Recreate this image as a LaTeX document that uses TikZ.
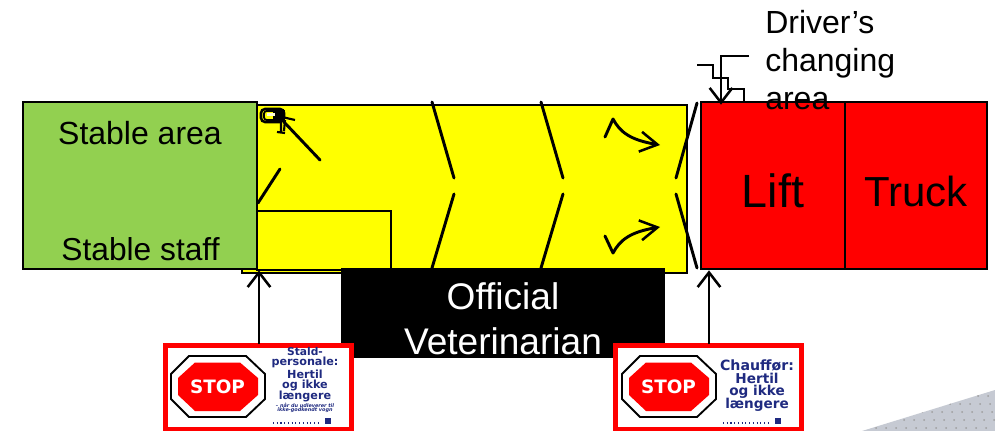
\documentclass[tikz,border=0pt]{standalone}
\usepackage{fontspec}
\setmainfont{Liberation Sans}
\newfontfamily\signfont{DejaVu Sans}
\usetikzlibrary{arrows.meta}
\definecolor{grn}{HTML}{92D050}
\definecolor{navy}{HTML}{1F2A80}
\definecolor{yel}{HTML}{FFFF00}
\definecolor{rd}{HTML}{FF0000}
\definecolor{floorc}{HTML}{C6CAD3}
\newdimen\px \px=0.75pt
\newcommand{\fsz}[1]{\fontsize{#1}{#1}\selectfont}
\tikzset{
  box/.style={draw=black,line width=2.2pt,anchor=north west,inner sep=0pt,outer sep=0pt},
  ink/.style={draw=black,line width=2.2pt,line cap=round,line join=round},
  thin ink/.style={draw=black,line width=1.9pt,line join=miter},
  chev/.style={-{Straight Barb[length=11pt,width=17pt,line width=1.9pt]},draw=black,line width=1.7pt,shorten >=-2pt},
  lbl/.style={inner sep=0pt,text=black,align=center},
  signbox/.style={draw=rd,fill=white,line width=3.6pt,anchor=north west,inner sep=0pt,outer sep=0pt,minimum width=186\px,minimum height=83.5\px},
  signtxt/.style={inner sep=0pt,text=navy,align=center},
}
\begin{document}
\begin{tikzpicture}[x=0.75pt,y=-0.75pt]
\useasboundingbox (0,0) rectangle (995,431);
% corner floor pattern
\begin{scope}
\clip (862,431) -- (995,390) -- (995,431) -- cycle;
\fill[floorc] (850,385) rectangle (995,431);
\foreach \i in {0,...,13}{\foreach \j in {0,...,4}{
  \fill[black!38] ({868+\i*10+\j*2},{396+\j*8}) circle (1);}}
\end{scope}
% zones
\node[box,fill=yel,minimum width=445\px,minimum height=168\px] (yard) at (242,105) {};
\node[box,fill=grn,minimum width=234\px,minimum height=167\px] (stable) at (23,102) {};
\node[box,fill=rd,minimum width=144\px,minimum height=167\px] (lift) at (701,102) {};
\node[box,fill=rd,minimum width=142\px,minimum height=167\px] (truck) at (845,102) {};
\node[box,fill=yel,minimum width=134\px,minimum height=59\px] (pen) at (257,211) {};
\node[fill=black,anchor=north west,inner sep=0pt,outer sep=0pt,minimum width=324\px,minimum height=90\px] (vet) at (341,268) {};
% gates
\foreach \x in {432,541}{
  \draw[ink] (\x,102) -- ({\x+22},178);
  \draw[ink] ({\x+22},194) -- (\x,268);
}
\draw[ink] (697,103) -- (676,178);
\draw[ink] (676,194) -- (697,268);
\draw[ink] (284,122) -- (320,160);
\draw[ink] (280,169) -- (258,203);
% key scribble
\draw[black,line width=1.9pt,rounded corners=3pt] (261,109) rectangle (284,122);
\draw[black,line width=1.4pt,rounded corners=2pt] (264,111) rectangle (282,120);
\fill[black] (273,110) rectangle (285,122);
\fill[white!85!yellow] (267,113.5) rectangle (275,116.5);
\draw[black,line width=1.6pt] (282,117) -- (295,120) (281,118) -- (281,133) (285,120) -- (284,131) (277,132) -- (285,133);
% flow arrows
\draw[ink,-{Straight Barb[length=13pt,width=15pt,line width=1.9pt]}]
  (605,137) -- (613,119) .. controls (620,132) and (630,140) .. (660,145);
\draw[ink,-{Straight Barb[length=13pt,width=15pt,line width=1.9pt]}]
  (605,236) -- (613,253) .. controls (620,240) and (630,232) .. (660,227);
% changing-area stairs
\coordinate (stairs) at (697,65);
\coordinate (drv) at (749,56);
\coordinate (drvturn) at (721,56);
\draw[thin ink] (stairs) -- ++(16,0) -- ++(0,13) -- ++(15,0) -- ++(0,11) -- ++(16,0) -- (744,102);
\draw[chev] (drv) -- (drvturn) -- (drvturn |- lift.north);
% labels
\node[lbl,font=\fsz{24pt}] (t1) at (140,133) {Stable area};
\node[lbl,font=\fsz{23.8pt}] (t2) at (140.5,249) {Stable staff};
\node[lbl,font=\fsz{35pt}] (t3) at (773,191) {Lift};
\node[lbl,font=\fsz{31.5pt}] (t4) at (916,191) {Truck};
\node[lbl,font=\fsz{24pt},anchor=base west] (t5) at (765,34) {Driver’s};
\node[lbl,font=\fsz{24pt},anchor=base west] (t6) at (765,72) {changing};
\node[lbl,font=\fsz{24pt},anchor=base west] (t7) at (765,110) {area};
\node[lbl,text=white,font=\fsz{27.8pt}] (t8) at (503,296) {Official};
\node[lbl,text=white,font=\fsz{27.8pt}] (t9) at (503,341) {Veterinarian};
% signs
\node[signbox] (sign1) at (165.5,345.5) {};
\node[signbox] (sign2) at (615.5,345.5) {};
\foreach \ox/\n in {171/a,622/b}{
  \fill[white] (\ox+18,356) -- (\ox+75,356) -- (\ox+94,374) -- (\ox+94,399) -- (\ox+75,417) -- (\ox+18,417) -- (\ox,399) -- (\ox,374) -- cycle;
  \draw[black,line width=1.4pt,line join=miter] (\ox+18,356) -- (\ox+75,356) -- (\ox+94,374) -- (\ox+94,399) -- (\ox+75,417) -- (\ox+18,417) -- (\ox,399) -- (\ox,374) -- cycle;
  \fill[rd] (\ox+24,362.5) -- (\ox+69,362.5) -- (\ox+87,378) -- (\ox+87,395) -- (\ox+69,411) -- (\ox+24,411) -- (\ox+7,395) -- (\ox+7,378) -- cycle;
  \node[inner sep=0pt,text=white,font=\signfont\bfseries\fsz{13.8pt}] (stop\n) at (\ox+46.5,386.5) {STOP};
}
\node[signtxt,font=\signfont\bfseries\fsz{8pt}] (s1) at (305,351.5) {Stald-};
\node[signtxt,font=\signfont\bfseries\fsz{8.4pt}] (s2) at (305,362) {personale:};
\node[signtxt,font=\signfont\bfseries\fsz{8.4pt}] (s3) at (305,374) {Hertil};
\node[signtxt,font=\signfont\bfseries\fsz{8.4pt}] (s4) at (305,385) {og ikke};
\node[signtxt,font=\signfont\bfseries\fsz{8.4pt}] (s5) at (305,396) {længere};
\node[signtxt,font=\signfont\bfseries\itshape\fsz{3.7pt}] (s6) at (305,405) {– når du udleverer til};
\node[signtxt,font=\signfont\bfseries\itshape\fsz{3.7pt}] (s7) at (305,410) {ikke-godkendt vogn};
\node[signtxt,font=\signfont\bfseries\fsz{10.6pt}] (r1) at (757,365) {Chauffør:};
\node[signtxt,font=\signfont\bfseries\fsz{10.2pt}] (r2) at (757,378.5) {Hertil};
\node[signtxt,font=\signfont\bfseries\fsz{10.2pt}] (r3) at (757,392) {og ikke};
\node[signtxt,font=\signfont\bfseries\fsz{10.2pt}] (r4) at (757,405) {længere};
\draw[navy,line width=0.8pt,dotted] (273,423) -- (318,423);
\draw[navy,line width=0.8pt,dotted] (723,423) -- (768,423);
\fill[navy] (325,418) rectangle (331,424);
\fill[navy] (775,418) rectangle (781,424);
% stop-line arrows
\coordinate (a1) at (259,344);
\coordinate (a2) at (709,344);
\draw[chev] (a1) -- (a1 |- yard.south);
\draw[chev] (a2) -- (a2 |- yard.south);
\end{tikzpicture}
\end{document}
